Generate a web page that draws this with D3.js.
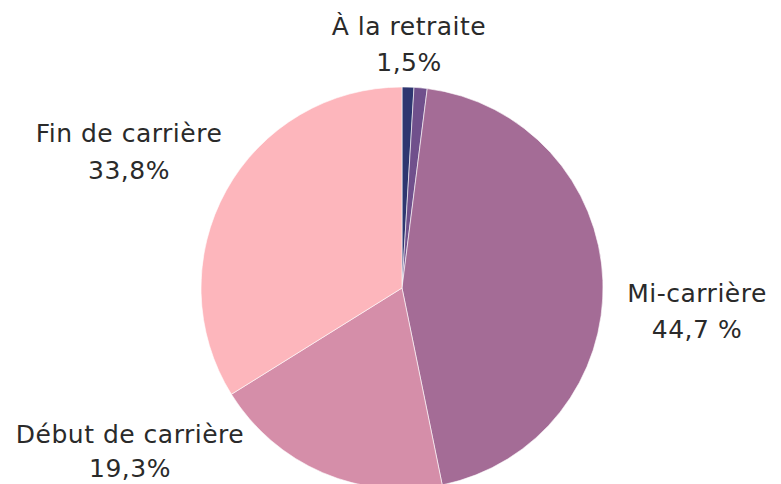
<!DOCTYPE html>
<html lang="fr">
<head>
<meta charset="UTF-8">
<script src="https://d3js.org/d3.v7.min.js"></script>
<style>
  body { margin: 0; background: #fff; }
  .lbl { font-family: "DejaVu Sans", sans-serif; font-size: 25px; letter-spacing: 0.5px; fill: #2a2a2a; }
</style>
</head>
<body>
<div id="chart"></div>
<script>
// data
const categories = ["À la retraite", "", "Mi-carrière", "Début de carrière", "Fin de carrière"];
const values = [0.95, 1.05, 44.7, 19.3, 33.8];
const valueLabels = ["1,5%", "", "44,7 %", "19,3%", "33,8%"];
const colors = ["#2e3670", "#70508c", "#a46c96", "#d58ea9", "#fdb6bc"];

// label anchor points (layout, not data)
const labelPos = [[409, 35], null, [697, 302], [130, 443], [129, 142]];
const lineGap = [36, 0, 36, 34, 37];

const width = 781, height = 484;
const cx = 402, cy = 288, r = 201;

const svg = d3.select("#chart").append("svg")
  .attr("width", width).attr("height", height);

const pie = d3.pie().sort(null).value(d => d.v);
const arc = d3.arc().innerRadius(0).outerRadius(r);
const data = values.map((v, i) => ({ v, i }));

const g = svg.append("g").attr("transform", `translate(${cx},${cy})`);
g.selectAll("path")
  .data(pie(data))
  .enter()
  .append("path")
  .attr("d", arc)
  .attr("fill", d => colors[d.data.i])
  .attr("stroke", "#fff")
  .attr("stroke-width", 0.6);

categories.forEach((c, i) => {
  if (!c) return;
  const [x, y] = labelPos[i];
  const t = svg.append("text").attr("class", "lbl").attr("text-anchor", "middle");
  t.append("tspan").attr("x", x).attr("y", y).text(c);
  t.append("tspan").attr("x", x).attr("y", y + lineGap[i]).text(valueLabels[i]);
});
</script>
</body>
</html>
